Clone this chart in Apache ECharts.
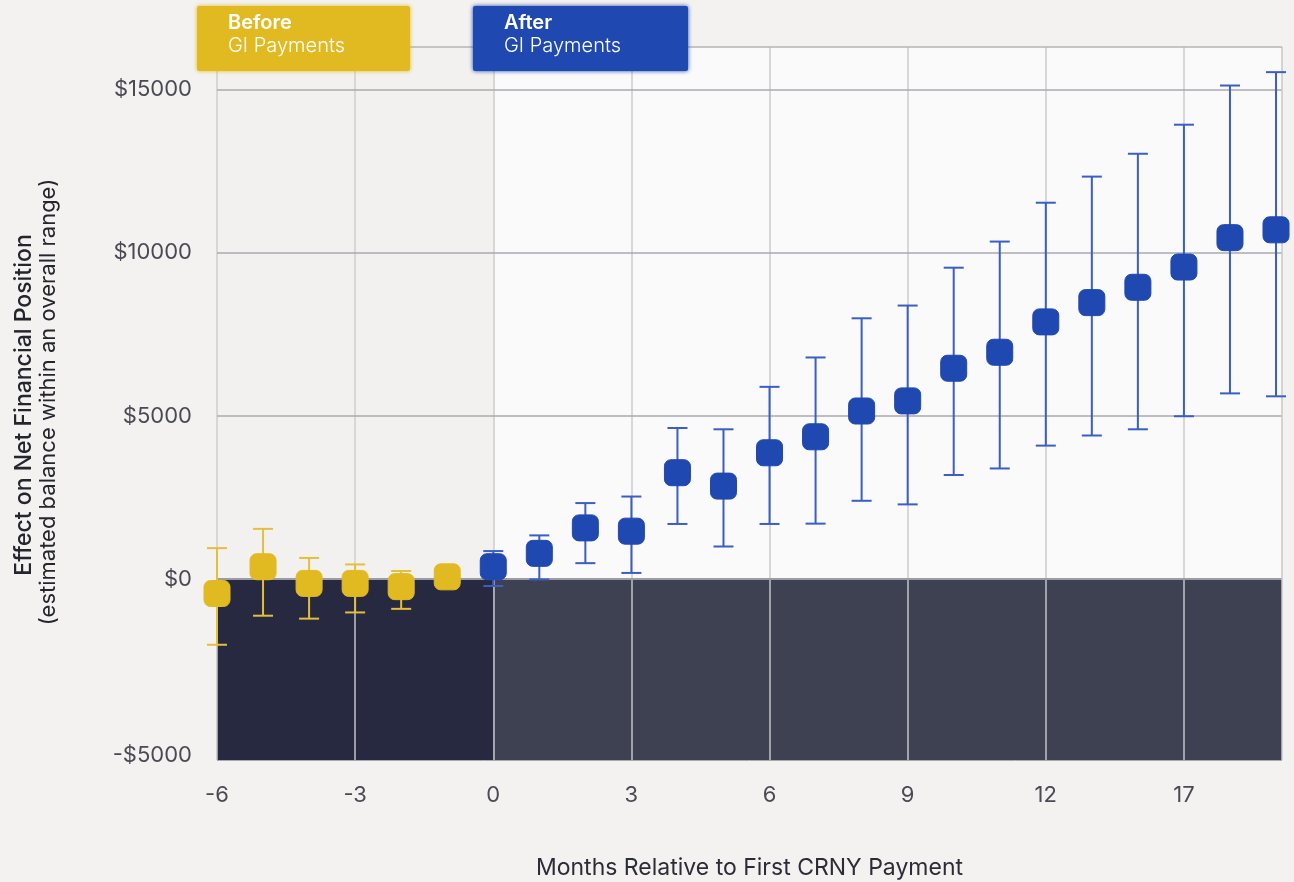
<!DOCTYPE html>
<html>
<head>
<meta charset="utf-8">
<title>Effect on Net Financial Position</title>
<script src="https://cdn.jsdelivr.net/npm/echarts@6/dist/echarts.min.js"></script>
<style>
  html, body { margin: 0; padding: 0; background: #f3f2f0; }
  #chart { width: 1294px; height: 882px; }
</style>
</head>
<body>
<div id="chart"></div>
<script>
// Months relative to the first payment
const months = [-6, -5, -4, -3, -2, -1, 0, 1, 2, 3, 4, 5, 6, 7, 8, 9, 10, 11, 12, 13, 14, 15, 16, 17];
// Point estimates of the effect (USD)
const estimate = [-440, 380, -130, -130, -230, 70, 380, 790, 1570, 1470, 3260, 2850, 3870, 4360, 5150, 5460, 6460, 6950, 7880, 8470, 8940, 9560, 10460, 10700];
// Lower and upper ends of each range (USD)
const lower = [-2010, -1120, -1210, -1020, -910, -200, -210, -10, 490, 190, 1690, 1000, 1690, 1700, 2400, 2290, 3190, 3390, 4090, 4400, 4590, 4990, 5690, 5600];
const upper = [950, 1540, 650, 450, 250, 300, 860, 1340, 2330, 2530, 4630, 4590, 5890, 6790, 7990, 8380, 9540, 10340, 11530, 12330, 13030, 13920, 15120, 15530];

// Axis ticks and their labels
const xTickValues = [-6, -3, 0, 3, 6, 9, 12, 15];
const xTickLabels = ['-6', '-3', '0', '3', '6', '9', '12', '17'];
const yTickValues = [0, 5000, 10000, 15000];
const yTickLabels = ['$0', '$5000', '$10000', '$15000'];
const yFloorLabel = '-$5000';

const X_MIN = -6, X_MAX = 17.13;
const Y_MIN = -5540, Y_MAX = 16300;

const YELLOW = '#e1ba22', YELLOW_BAR = '#e2c03c';
const BLUE = '#1f48b0', BLUE_BAR = '#3a5ec4';
const FONT = 'Inter, "Noto Sans", sans-serif';

function rows(from, to) {
  const out = [];
  for (let i = 0; i < months.length; i++) {
    if (months[i] >= from && months[i] <= to) out.push(i);
  }
  return out;
}
const beforeIdx = rows(-99, -1);
const afterIdx = rows(0, 99);

function points(idx) { return idx.map(i => [months[i], estimate[i]]); }
function ranges(idx) { return idx.map(i => [months[i], lower[i], upper[i]]); }

function errorBars(color) {
  return function (params, api) {
    const x = api.value(0);
    const lo = api.coord([x, api.value(1)]);
    const hi = api.coord([x, api.value(2)]);
    const cap = 10;
    const st = { stroke: color, lineWidth: 2 };
    return {
      type: 'group',
      children: [
        { type: 'line', shape: { x1: hi[0], y1: hi[1], x2: lo[0], y2: lo[1] }, style: st },
        { type: 'line', shape: { x1: hi[0] - cap, y1: hi[1], x2: hi[0] + cap, y2: hi[1] }, style: st },
        { type: 'line', shape: { x1: lo[0] - cap, y1: lo[1], x2: lo[0] + cap, y2: lo[1] }, style: st }
      ]
    };
  };
}

// Shaded quadrants of the plot
const areas = [
  [{ coord: [X_MIN, 0], itemStyle: { color: '#f2f1ef' } }, { coord: [0, Y_MAX] }],
  [{ coord: [0, 0], itemStyle: { color: '#fafafa' } }, { coord: [X_MAX, Y_MAX] }],
  [{ coord: [X_MIN, Y_MIN], itemStyle: { color: '#262940' } }, { coord: [0, 0] }],
  [{ coord: [0, Y_MIN], itemStyle: { color: '#3e4152' } }, { coord: [X_MAX, 0] }]
];

// Grid lines and frame
const lines = [];
xTickValues.forEach(x => {
  lines.push([{ coord: [x, 0], lineStyle: { color: '#d7d7d7', width: 2, type: 'solid' } }, { coord: [x, Y_MAX] }]);
  lines.push([{ coord: [x, Y_MIN], lineStyle: { color: '#c3c3c8', width: 1.5, type: 'solid' } }, { coord: [x, 0] }]);
});
yTickValues.forEach(y => {
  const zero = y === 0;
  lines.push([{ coord: [X_MIN, y], lineStyle: { color: zero ? '#9c9ca4' : '#a9a9b0', width: zero ? 2 : 1.5, type: 'solid' } }, { coord: [X_MAX, y] }]);
});
lines.push([{ coord: [X_MAX, Y_MIN], lineStyle: { color: '#c8c8cb', width: 1.5, type: 'solid' } }, { coord: [X_MAX, Y_MAX] }]);
lines.push([{ coord: [X_MIN, Y_MAX], lineStyle: { color: '#b4b4b9', width: 1.5, type: 'solid' } }, { coord: [X_MAX, Y_MAX] }]);
lines.push([{ coord: [X_MIN, Y_MIN], lineStyle: { color: '#a8a8ae', width: 1, type: 'solid' } }, { coord: [X_MAX, Y_MIN] }]);

function legendBox(x, w, color, head, sub) {
  return [
    { type: 'rect', x: x, y: 6, z: 100, zlevel: 1, shape: { x: 0, y: 0, width: w, height: 65, r: 2 },
      style: { fill: color, shadowBlur: 4, shadowColor: color } },
    { type: 'text', x: x + 31, y: 33, z: 101, zlevel: 1,
      style: { text: head, fill: '#ffffff', font: '600 20px ' + FONT, verticalAlign: 'bottom' } },
    { type: 'text', x: x + 31, y: 56, z: 101, zlevel: 1,
      style: { text: sub, fill: '#ffffff', font: '300 20px ' + FONT, verticalAlign: 'bottom' } }
  ];
}

const chart = echarts.init(document.getElementById('chart'), null, { renderer: 'canvas' });
chart.setOption({
  backgroundColor: '#f3f2f0',
  animation: false,
  textStyle: { fontFamily: FONT },
  grid: { left: 217, right: 12, top: 47, bottom: 122, containLabel: false, outerBoundsMode: 'none' },
  xAxis: {
    type: 'value', min: X_MIN, max: X_MAX,
    axisLine: { show: false }, axisTick: { show: false }, splitLine: { show: false },
    axisLabel: {
      customValues: xTickValues,
      formatter: v => xTickLabels[xTickValues.indexOf(v)] ?? '',
      color: '#4a4a55', fontSize: 22, margin: 24, fontFamily: FONT
    },
    name: 'Months Relative to First CRNY Payment',
    nameLocation: 'middle', nameGap: 97,
    nameTextStyle: { color: '#2c2c36', fontSize: 23, fontFamily: FONT }
  },
  yAxis: {
    type: 'value', min: Y_MIN, max: Y_MAX,
    axisLine: { show: false }, splitLine: { show: false },
    axisTick: { show: true, customValues: yTickValues, length: 7, lineStyle: { color: '#a9a9b0', width: 1.5 } },
    axisLabel: {
      customValues: [Y_MIN].concat(yTickValues),
      formatter: v => v === Y_MIN ? '{f|' + yFloorLabel + '}' : (yTickLabels[yTickValues.indexOf(v)] ?? ''),
      color: '#4a4a55', fontSize: 22, margin: 25, fontFamily: FONT,
      rich: { f: { color: '#4a4a55', fontSize: 22, fontFamily: FONT, padding: [0, 0, 10, 0] } }
    }
  },
  graphic: legendBox(197, 213, YELLOW, 'Before', 'GI Payments')
    .concat(legendBox(473, 215, BLUE, 'After', 'GI Payments'))
    .concat([
      { type: 'text', x: 24, y: 405, rotation: Math.PI / 2, z: 100,
        style: { text: 'Effect on Net Financial Position', fill: '#25252e', font: '500 23px ' + FONT, align: 'center', verticalAlign: 'middle' } },
      { type: 'text', x: 48, y: 402, rotation: Math.PI / 2, z: 100,
        style: { text: '(estimated balance within an overall range)', fill: '#25252e', font: '400 22px ' + FONT, align: 'center', verticalAlign: 'middle' } }
    ]),
  series: [
    { type: 'line', data: [], z: 1, silent: true,
      markArea: { silent: true, z: 1, data: areas } },
    { type: 'line', data: [], z: 2, silent: true,
      markLine: { silent: true, z: 2, symbol: ['none', 'none'], label: { show: false }, animation: false, data: lines } },
    { type: 'custom', name: 'Before range', z: 3, silent: true, clip: false,
      data: ranges(beforeIdx), encode: { x: 0, y: [1, 2] }, renderItem: errorBars(YELLOW_BAR) },
    { type: 'custom', name: 'After range', z: 3, silent: true, clip: false,
      data: ranges(afterIdx), encode: { x: 0, y: [1, 2] }, renderItem: errorBars(BLUE_BAR) },
    { type: 'scatter', name: 'Before GI Payments', z: 4, symbol: 'roundRect', symbolSize: 26,
      data: points(beforeIdx),
      itemStyle: { color: YELLOW, opacity: 1, borderColor: YELLOW, borderWidth: 1 } },
    { type: 'scatter', name: 'After GI Payments', z: 4, symbol: 'roundRect', symbolSize: 26,
      data: points(afterIdx),
      itemStyle: { color: BLUE, opacity: 1, borderColor: BLUE, borderWidth: 1 } }
  ]
});
</script>
</body>
</html>
